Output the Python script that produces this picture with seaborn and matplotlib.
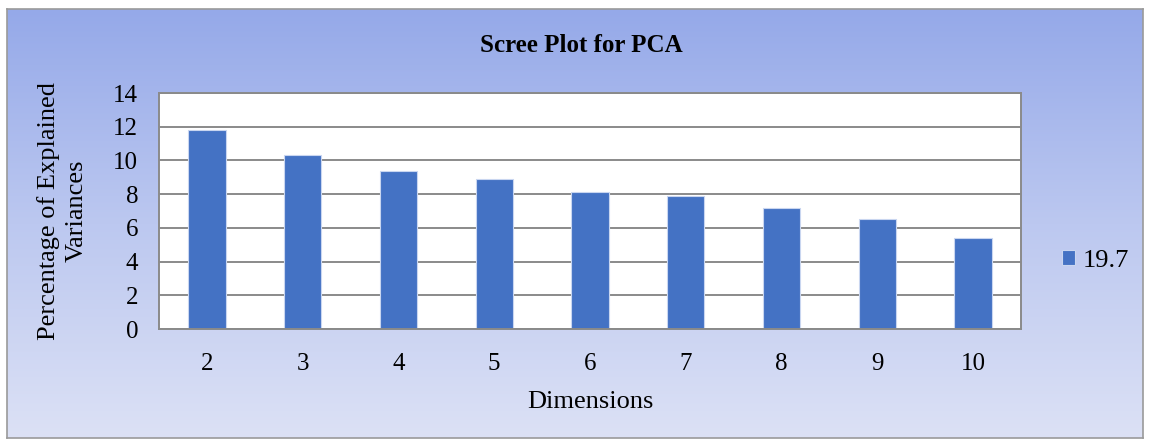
import numpy as np
import pandas as pd
import seaborn as sns
import matplotlib.pyplot as plt
from matplotlib.colors import LinearSegmentedColormap

dimensions = ["2", "3", "4", "5", "6", "7", "8", "9", "10"]
variance = [11.8, 10.3, 9.4, 8.9, 8.1, 7.9, 7.2, 6.5, 5.4]
series_name = "19.7"

df = pd.DataFrame({"Dimensions": dimensions, "Variance": variance})

sns.set_style("white")
plt.rcParams["font.family"] = ["Liberation Serif", "DejaVu Serif"]
plt.rcParams["text.color"] = "black"
plt.rcParams["axes.labelcolor"] = "black"
plt.rcParams["xtick.color"] = "black"
plt.rcParams["ytick.color"] = "black"

fig = plt.figure(figsize=(11.49, 4.41), dpi=100)

# gradient background with a thin border
bg = fig.add_axes([7 / 1149, 3 / 441, 1136 / 1149, 429 / 441])
cmap = LinearSegmentedColormap.from_list("bg", ["#95A9E9", "#BCC8F0", "#DCE1F5"])
grad = np.linspace(0, 1, 256).reshape(-1, 1)
bg.imshow(grad, aspect="auto", cmap=cmap, extent=[0, 1, 0, 1], origin="upper")
bg.set_xticks([])
bg.set_yticks([])
for s in bg.spines.values():
    s.set_color("#9a9a9a")
    s.set_linewidth(1.2)
bg.set_zorder(0)

ax = fig.add_axes([159 / 1149, 1 - 329 / 441, 862 / 1149, 236 / 441])
ax.set_zorder(1)
ax.set_facecolor("white")
sns.barplot(data=df, x="Dimensions", y="Variance", color="#4472C4", width=0.39,
            edgecolor="#C9D6F0", linewidth=0.8, saturation=1, label=series_name, ax=ax)

ax.set_ylim(0, 14)
ax.set_yticks(range(0, 15, 2))
ax.yaxis.grid(True, color="#8a8a8a", linewidth=1.4)
ax.set_axisbelow(True)
for s in ax.spines.values():
    s.set_color("#8a8a8a")
    s.set_linewidth(1.4)
ax.tick_params(axis="both", length=0, labelsize=18)
ax.tick_params(axis="x", pad=17)
ax.tick_params(axis="y", pad=15)
ax.set_xlabel("Dimensions", fontsize=19, labelpad=12)
ax.set_ylabel("Percentage of Explained\nVariances", fontsize=19, labelpad=18, linespacing=1.35)

fig.text(581 / 1149, 1 - 46 / 441, "Scree Plot for PCA", ha="center", va="center",
         fontsize=18, fontweight="bold")

ax.legend(loc="center left", bbox_to_anchor=(1.02, 0.29), frameon=False,
          fontsize=19, handlelength=0.5, handleheight=0.5, handletextpad=0.3)

fig.savefig("out.png", dpi=100)
